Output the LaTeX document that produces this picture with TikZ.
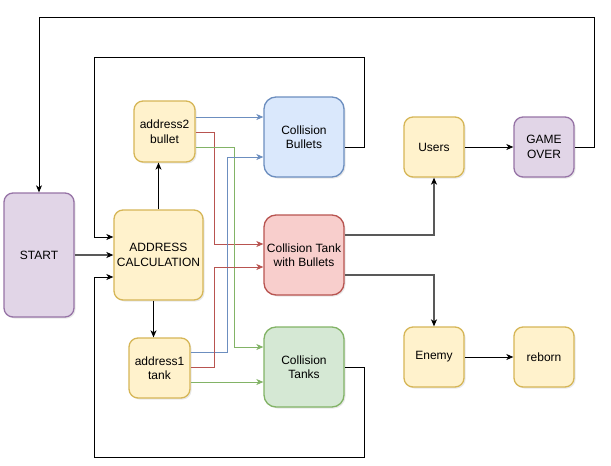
\documentclass[tikz,border=0pt]{standalone}
\usepackage{fontspec}
\setmainfont{Liberation Sans}
\usepackage{tikz}
\usetikzlibrary{shapes,arrows.meta,positioning,shadows}
\definecolor{yfill}{HTML}{FFF2CC}
\definecolor{ydraw}{HTML}{D6B656}
\definecolor{pfill}{HTML}{E1D5E7}
\definecolor{pdraw}{HTML}{9673A6}
\definecolor{bfill}{HTML}{DAE8FC}
\definecolor{bdraw}{HTML}{6C8EBF}
\definecolor{rfill}{HTML}{F8CECC}
\definecolor{rdraw}{HTML}{B85450}
\definecolor{gfill}{HTML}{D5E8D4}
\definecolor{gdraw}{HTML}{82B366}
\tikzstyle{box} = [draw, line width=1.3pt, rounded corners=9pt, align=center, inner sep=0pt,
  font=\fontsize{12}{14.5}\selectfont,
  drop shadow={opacity=0.18, shadow xshift=1.5pt, shadow yshift=-1.5pt}]
\tikzstyle{ybox} = [box, fill=yfill, draw=ydraw]
\tikzstyle{pbox} = [box, fill=pfill, draw=pdraw]
\tikzstyle{bbox} = [box, fill=bfill, draw=bdraw]
\tikzstyle{rbox} = [box, fill=rfill, draw=rdraw]
\tikzstyle{gbox} = [box, fill=gfill, draw=gdraw]
\tikzstyle{line} = [draw, line width=1pt]
\tikzstyle{arr} = [line, -{Stealth[length=7pt,width=6pt,inset=2pt]}]
\tikzstyle{garr} = [line, draw=black!65, line width=1.2pt, -{Stealth[length=7pt,width=6pt,inset=2pt,color=black]}]

\begin{document}
\begin{tikzpicture}[x=1pt, y=-1pt]
			\useasboundingbox (0,0) rectangle (611,466);

			\node [pbox, minimum width=70pt, minimum height=124pt] (start) at (39,255) {START};
			\node [ybox, minimum width=89pt, minimum height=90pt] (addr) at (158.5,255) {ADDRESS\\CALCULATION};
			\node [ybox, minimum width=61pt, minimum height=61pt] (a2) at (164.5,131.5) {address2\\bullet};
			\node [ybox, minimum width=61pt, minimum height=60pt] (a1) at (159.5,368) {address1\\tank};
			\node [bbox, minimum width=80pt, minimum height=80pt, rounded corners=12pt] (cb) at (304,137) {Collision\\Bullets};
			\node [rbox, minimum width=80pt, minimum height=80pt, rounded corners=12pt] (ctb) at (304,255) {Collision Tank\\with Bullets};
			\node [gbox, minimum width=80pt, minimum height=80pt, rounded corners=12pt] (ct) at (304,367) {Collision\\Tanks};
			\node [ybox, minimum width=60pt, minimum height=60pt] (users) at (434,147) {Users};
			\node [pbox, minimum width=60pt, minimum height=60pt] (go) at (544,147) {GAME\\OVER};
			\node [ybox, minimum width=60pt, minimum height=60pt] (enemy) at (434,357) {Enemy};
			\node [ybox, minimum width=60pt, minimum height=60pt] (reborn) at (544,357) {reborn};

			% feedback loops
			\path [arr] (go.east) -- (594,147) -- (594,17) -- (39,17) -- (start.north);
			\path [arr] (cb.east |- 0,147) -- (364,147) -- (364,57) -- (94,57) -- (94,237) -- (addr.west |- 0,237);
			\path [arr] (ct.east |- 0,367) -- (364,367) -- (364,457) -- (94,457) -- (94,277) -- (addr.west |- 0,277);

			\path [garr] (start.east) -- (addr.west);
			\path [arr] (addr.north) -- (addr.north |- a2.south);
			\path [arr] ([xshift=-5pt]addr.south) -- ([xshift=-5pt]addr.south |- a1.north);

			% address lines
			\path [arr, draw=bdraw] (a2.east |- 0,117) -- (cb.west |- 0,117);
			\path [arr, draw=rdraw] (a2.east |- 0,132) -- (214,132) -- (214,244) -- (ctb.west |- 0,244);
			\path [arr, draw=gdraw] (a2.east |- 0,147) -- (234,147) -- (234,347) -- (ct.west |- 0,347);
			\path [arr, draw=bdraw] (a1.east |- 0,352) -- (227,352) -- (227,157) -- (cb.west |- 0,157);
			\path [arr, draw=rdraw] (a1.east |- 0,367) -- (214,367) -- (214,267) -- (ctb.west |- 0,267);
			\path [arr, draw=gdraw] (a1.east |- 0,382) -- (ct.west |- 0,382);

			\path [garr] (ctb.east |- 0,235) -- (434,235) -- (users.south);
			\path [garr] (ctb.east |- 0,275) -- (434,275) -- (enemy.north);
			\path [arr] (users.east) -- (go.west);
			\path [arr] (enemy.east) -- (reborn.west);
		\end{tikzpicture}
\end{document}
